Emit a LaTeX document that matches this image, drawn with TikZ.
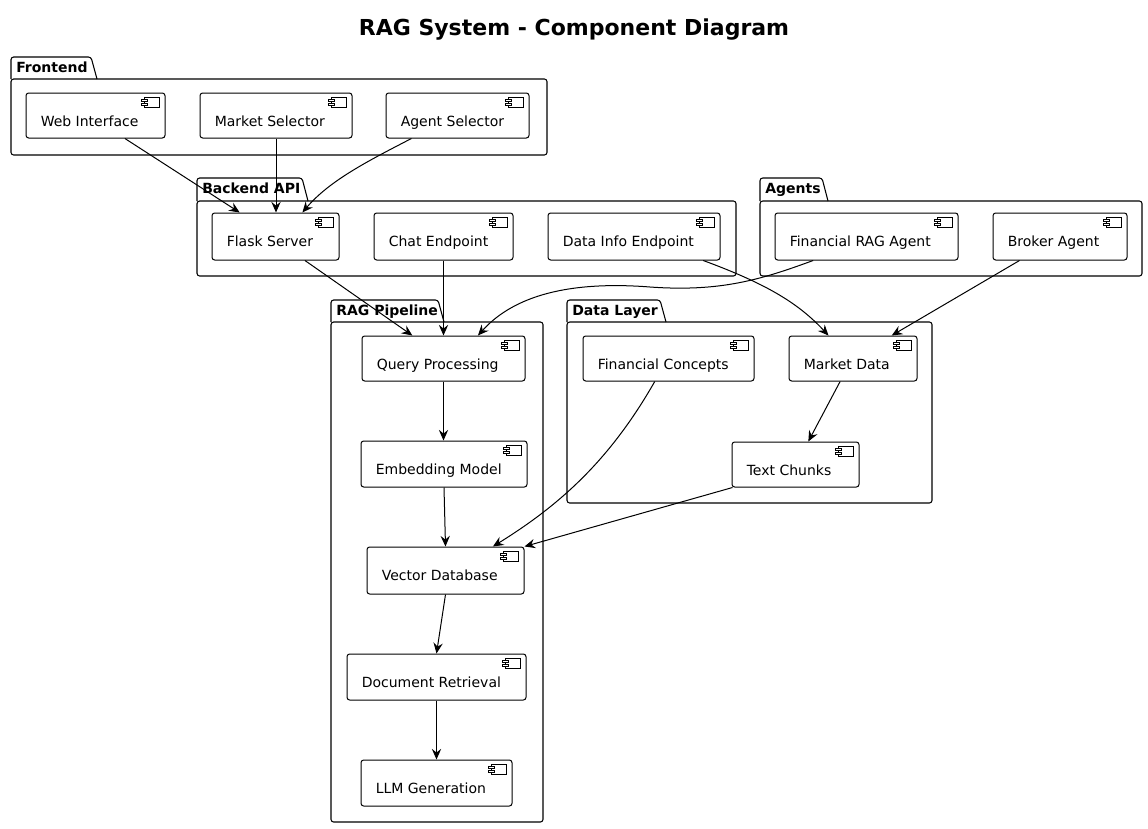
\documentclass[tikz,border=0pt]{standalone}
\usepackage{fontspec}
\setmainfont{DejaVu Sans}
\usetikzlibrary{arrows.meta,calc,fit}
\tikzset{
 comp/.style={draw, rounded corners=2pt, fill=white, inner sep=0pt, line width=0.75pt},
 ctext/.style={anchor=base west, inner sep=0pt, font=\fontsize{10.5}{12}\selectfont, text=black},
 pkgline/.style={line width=0.8pt, rounded corners=2pt},
 ptext/.style={anchor=base west, inner sep=0pt, font=\fontsize{10.5}{12}\selectfont\bfseries},
 conn/.style={-{Stealth[length=8pt,width=7pt,inset=2.8pt]}, line width=0.75pt},
 titletext/.style={anchor=base, inner sep=0pt, font=\fontsize{16.5}{20}\selectfont\bfseries},
}
\newcommand\mycomp[6]{%
 \node[comp, fit={(#2,#3)(#4,#5)}] (#1) {};
 \node[ctext] (#1-t) at ($(#1.north west)+(15,33.5)$) {#6};
 \begin{scope}[shift={(#1.north east)}]
  \draw[line width=0.6pt] (-21,5) rectangle (-6,15);
  \draw[line width=0.6pt, fill=white] (-24,7) rectangle (-18,9);
  \draw[line width=0.6pt, fill=white] (-24,11) rectangle (-18,13);
 \end{scope}
}
\newcommand\mypkg[8]{%
 \draw[pkgline] (#2,#4) -- (#2,#3) -- (#7,#3) -- ($(#7,#4)+(6,0)$);
 \draw[pkgline] (#2,#4) rectangle (#5,#6);
 \node[ptext] (#1) at ($(#2,#3)+(5,15.5)$) {#8};
}
\begin{document}
\begin{tikzpicture}[x=0.75pt,y=-0.75pt]
\fill[white] (0,0) rectangle (1148,828);
\useasboundingbox (0,0) rectangle (1148,828);

\node[titletext] (title) at (574,35.5) {RAG System - Component Diagram};

% packages
\mypkg{pfront}{11}{57}{79}{547}{155}{91}{Frontend}
\mypkg{pback}{197}{178}{201}{736}{276}{302}{Backend API}
\mypkg{pagents}{760}{178}{201}{1142}{276}{822}{Agents}
\mypkg{prag}{331}{300}{322}{543}{822}{438}{RAG Pipeline}
\mypkg{pdata}{567}{300}{322}{932}{503}{660}{Data Layer}

% components
\mycomp{web}{26}{93}{165}{138}{Web Interface}
\mycomp{msel}{200}{93}{352}{138}{Market Selector}
\mycomp{asel}{386}{93}{529}{138}{Agent Selector}
\mycomp{flask}{212}{213}{339}{260}{Flask Server}
\mycomp{chat}{374}{213}{513}{260}{Chat Endpoint}
\mycomp{dinfo}{548}{213}{720}{260}{Data Info Endpoint}
\mycomp{frag}{775}{213}{958}{260}{Financial RAG Agent}
\mycomp{broker}{993}{213}{1127}{260}{Broker Agent}
\mycomp{qp}{362}{336}{525}{381}{Query Processing}
\mycomp{emb}{361}{441}{527}{487}{Embedding Model}
\mycomp{vdb}{367}{547}{524}{594}{Vector Database}
\mycomp{dret}{347}{654}{526}{700}{Document Retrieval}
\mycomp{llm}{361}{760}{512}{806}{LLM Generation}
\mycomp{fc}{583}{336}{754}{381}{Financial Concepts}
\mycomp{md}{789}{336}{917}{381}{Market Data}
\mycomp{tc}{732}{442}{859}{487}{Text Chunks}

% connectors
\draw[conn] ($(web.south west)!0.71!(web.south east)$) -- ($(flask.north west)!0.22!(flask.north east)$);
\draw[conn] (msel.south) -- (msel.south |- flask.north);
\draw[conn] ($(asel.south west)!0.18!(asel.south east)$) .. controls (370,160) and (330,180) .. ($(flask.north west)!0.71!(flask.north east)$);
\draw[conn] ($(flask.south west)!0.73!(flask.south east)$) -- ($(qp.north west)!0.31!(qp.north east)$);
\draw[conn] (chat.south) -- (chat.south |- qp.north);
\coordinate (w1) at (650,287);
\draw[conn] ($(frag.south west)!0.21!(frag.south east)$) .. controls (760,280) and (720,292) .. (w1) .. controls (560,280) and (510,300) .. ($(qp.north west)!0.71!(qp.north east)$);
\draw[conn] ($(dinfo.south west)!0.9!(dinfo.south east)$) .. controls (770,285) and (800,305) .. ($(md.north west)!0.31!(md.north east)$);
\draw[conn] ($(broker.south west)!0.2!(broker.south east)$) -- ($(md.north west)!0.8!(md.north east)$);
\draw[conn] (qp.south) -- (qp.south |- emb.north);
\draw[conn] (emb.south) -- (vdb.north);
\draw[conn] ($(fc.south west)!0.42!(fc.south east)$) .. controls (610,460) and (560,505) .. ($(vdb.north west)!0.8!(vdb.north east)$);
\draw[conn] ($(tc.south west)+(1,0)$) -- (vdb.north east);
\draw[conn] ($(md.south west)!0.4!(md.south east)$) -- ($(tc.north west)!0.6!(tc.north east)$);
\draw[conn] (vdb.south) -- (dret.north);
\draw[conn] (dret.south) -- (llm.north);
\end{tikzpicture}
\end{document}
